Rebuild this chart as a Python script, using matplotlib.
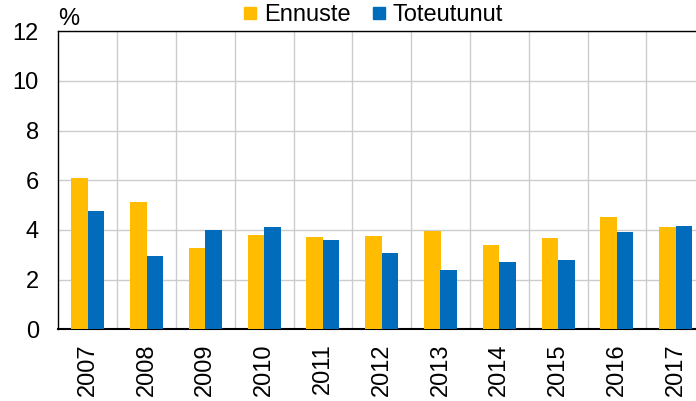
import matplotlib
matplotlib.use("Agg")
import matplotlib.pyplot as plt
import numpy as np
from matplotlib.lines import Line2D

plt.rcParams['font.family'] = ['Liberation Sans', 'DejaVu Sans']

years = ['2007', '2008', '2009', '2010', '2011', '2012', '2013', '2014', '2015', '2016', '2017']
ennuste = [6.11, 5.14, 3.29, 3.80, 3.72, 3.76, 3.96, 3.39, 3.68, 4.52, 4.11]
toteutunut = [4.76, 2.95, 3.99, 4.12, 3.58, 3.07, 2.39, 2.70, 2.79, 3.92, 4.17]
yticks = [0, 2, 4, 6, 8, 10, 12]

c_e = '#FFBC00'
c_t = '#006CBB'

fig = plt.figure(figsize=(6.96, 4.01), dpi=100)
ax = fig.add_axes([58.3/696, 1 - 329.3/401, 646.8/696, 298/401])

x = np.arange(len(years))
w = 0.28
ax.bar(x - w/2, ennuste, width=w, color=c_e, zorder=3)
ax.bar(x + w/2, toteutunut, width=w, color=c_t, zorder=3)

ax.set_xlim(-0.5, len(years) - 0.5)
ax.set_ylim(0, 12)
ax.set_yticks(yticks)
ax.set_yticklabels([str(t) for t in yticks])
ax.set_xticks(x)
ax.set_xticklabels(years, rotation=90)
ax.set_xticks(x[:-1] + 0.5, minor=True)
ax.tick_params(axis='both', which='both', length=0, labelsize=17)
ax.tick_params(axis='y', pad=14)
ax.tick_params(axis='x', pad=10)
ax.grid(axis='y', which='major', color='#cccccc', lw=1, zorder=0)
ax.grid(axis='x', which='minor', color='#cccccc', lw=1, zorder=0)
ax.grid(axis='x', which='major', visible=False)

for s in ['left', 'top']:
    ax.spines[s].set_color('black')
    ax.spines[s].set_linewidth(1.0)
ax.spines['bottom'].set_color('black')
ax.spines['bottom'].set_linewidth(1.5)
ax.spines['right'].set_visible(False)

ax.text(0, 1.005, '%', transform=ax.transAxes, ha='left', va='bottom', fontsize=17)

handles = [Line2D([], [], marker='s', ls='none', color=c_e, markersize=8),
           Line2D([], [], marker='s', ls='none', color=c_t, markersize=8)]
fig.legend(handles, ['Ennuste', 'Toteutunut'], loc='center', bbox_to_anchor=(0.534, 0.963),
           ncol=2, frameon=False, fontsize=17, handletextpad=0.2, columnspacing=0.8,
           handlelength=0.8, borderpad=0, borderaxespad=0)

fig.savefig('out.png', dpi=100)
